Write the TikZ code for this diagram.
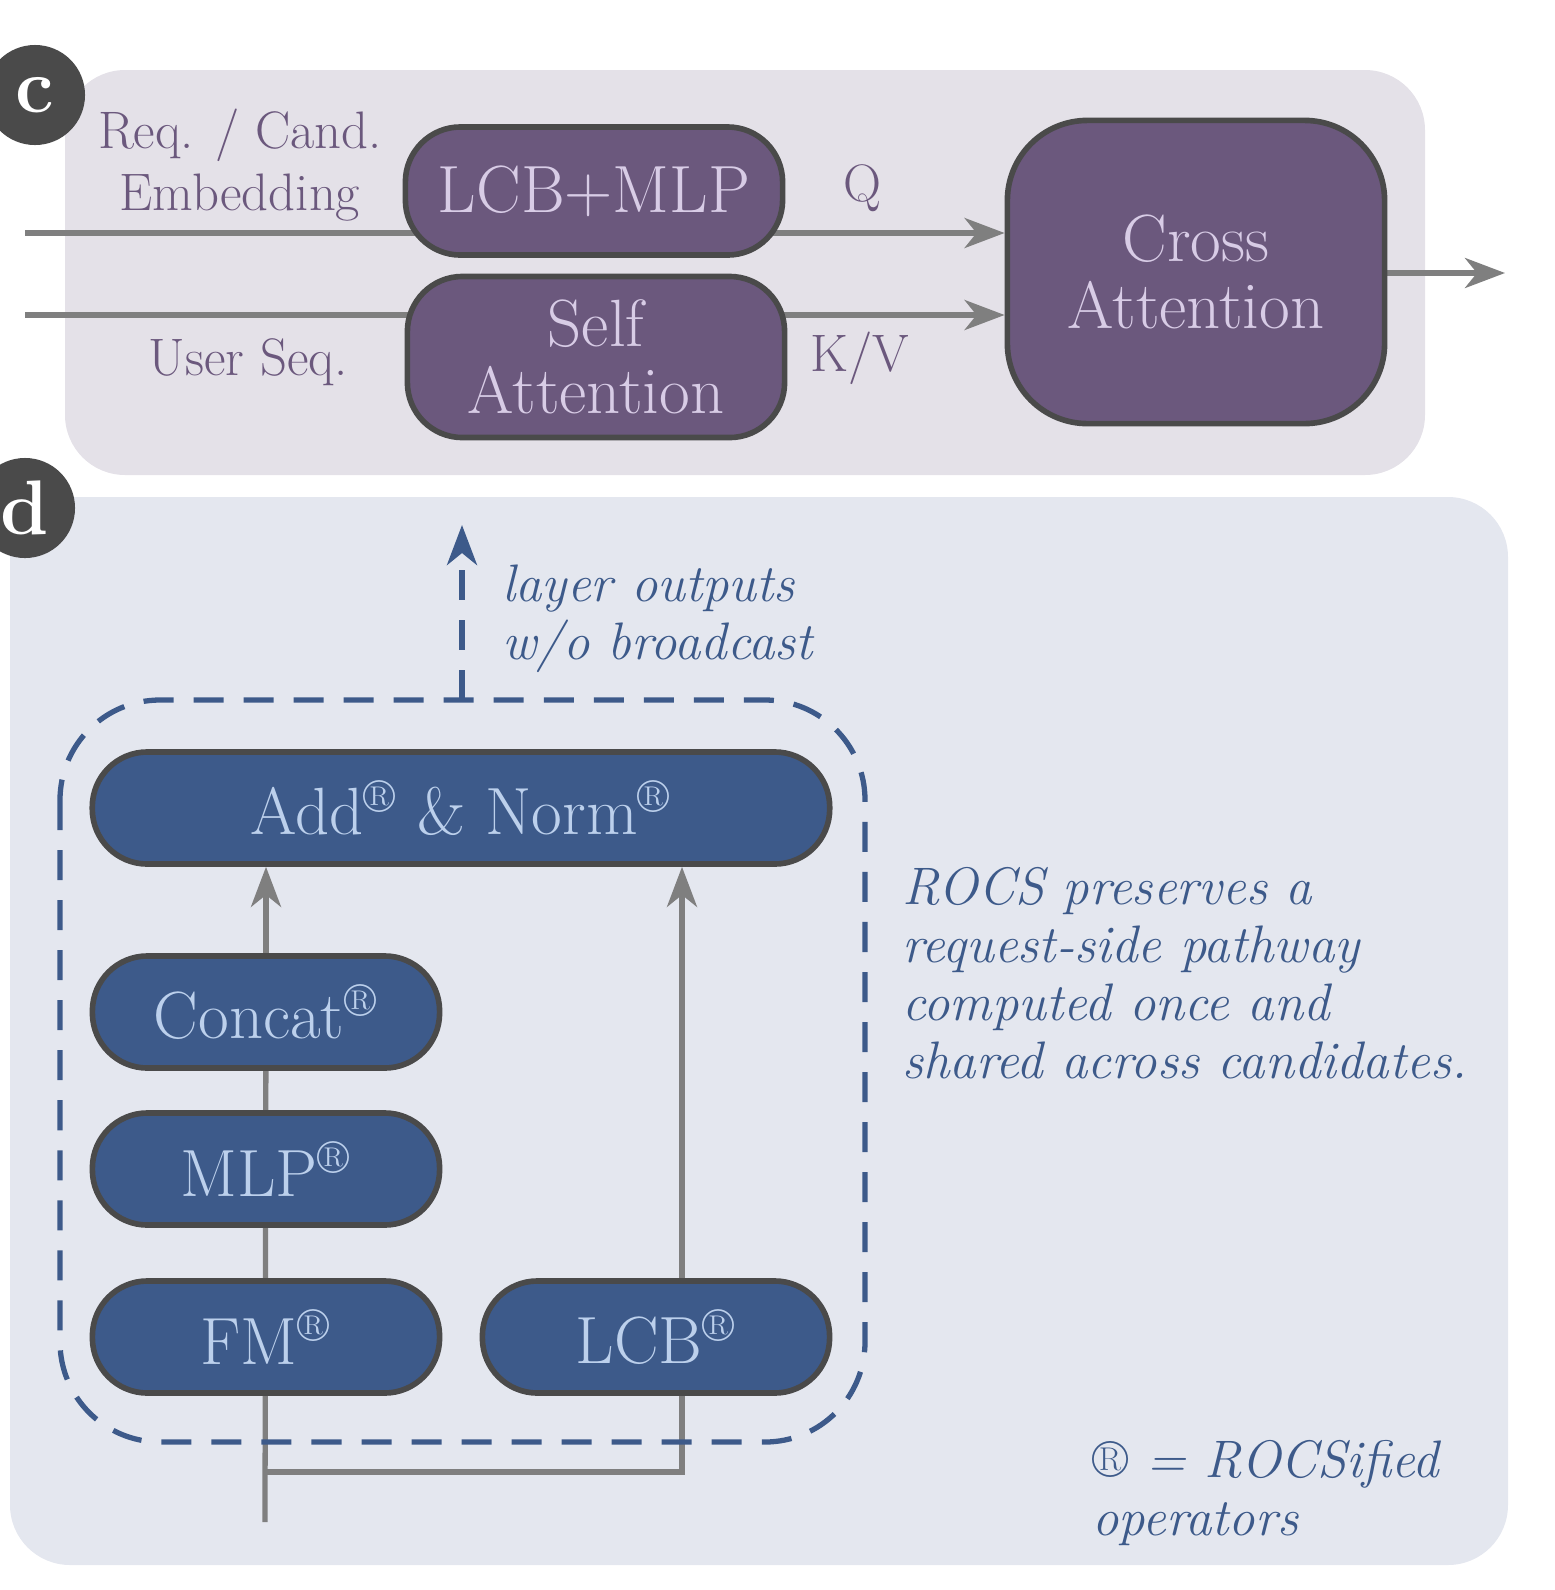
\documentclass[tikz,border=0pt]{standalone}
\usepackage{tikz}
\usetikzlibrary{arrows.meta,positioning}
\pgfdeclarelayer{panel}
\pgfdeclarelayer{wires}
\pgfsetlayers{panel,wires,main}
\definecolor{cpanel}{HTML}{E4E1E8}
\definecolor{dpanel}{HTML}{E4E7EF}
\definecolor{cpurple}{HTML}{6B587D}
\definecolor{ctext}{HTML}{D8CCE6}
\definecolor{dblue}{HTML}{3D5A8A}
\definecolor{dtext}{HTML}{BCD0EC}
\definecolor{edge}{HTML}{4A4A4A}
\definecolor{wire}{HTML}{7F7F7F}
\newcommand\Reg{\textsuperscript{\textregistered}}
\tikzset{
    opbox/.style={draw=edge,line width=1.6pt,minimum height=#1,rounded corners=0.55cm,align=center,inner sep=0pt},
    cbox/.style={opbox=1.28cm,fill=cpurple,text=ctext,font=\fontsize{19}{22}\selectfont},
    dbox/.style={opbox=1.12cm,fill=dblue,text=dtext,font=\fontsize{19}{22}\selectfont},
    wireline/.style={draw=wire,line width=1.5pt},
    wirearrow/.style={wireline,-{Stealth[length=0.4cm,width=0.3cm,inset=0.12cm]}},
    badge/.style={circle,fill=edge,text=white,minimum size=1cm,inner sep=0pt,font=\fontsize{22}{22}\selectfont\bfseries},
    clabel/.style={text=cpurple,font=\fontsize{15}{16.5}\selectfont,align=center},
    dnote/.style={text=dblue,font=\fontsize{15}{16.5}\selectfont\itshape,align=left},
}
\begin{document}
\begin{tikzpicture}[x=0.01cm,y=-0.01cm]
    \useasboundingbox (0,0) rectangle (1555,1590);
    % panels
    \begin{pgfonlayer}{panel}
        \fill[cpanel,rounded corners=0.6cm] (65,70) rectangle (1425,475);
        \fill[dpanel,rounded corners=0.6cm] (10,497) rectangle (1508,1565);
    \end{pgfonlayer}
    \node[badge] (c) at (35,95) {c};
    \node[badge] (d) at (25,508) {d};
    % panel c
    \node[cbox,minimum width=3.77cm] (lcbmlp) at (594,191) {LCB+MLP};
    \node[cbox,minimum width=3.77cm,minimum height=1.61cm] (selfatt) at (596,357) {Self\\[-3pt]Attention};
    \node[cbox,minimum width=3.77cm,minimum height=3.03cm,rounded corners=0.8cm] (crossatt) at (1196,272) {Cross\\[-3pt]Attention};
    \node[clabel] (embed) at (240,165) {Req. / Cand.\\[1pt]Embedding};
    \node[clabel] (q) at (862,188) {Q};
    \node[clabel] (user) at (248,362) {User Seq.};
    \node[clabel] (kv) at (860,358) {K/V};
    \coordinate (inq) at (25,233);
    \coordinate (inkv) at (25,315);
    \coordinate (out) at (1505,273);
    \begin{pgfonlayer}{wires}
        \draw[wirearrow] (inq) -- (inq -| crossatt.west);
        \draw[wirearrow] (inkv) -- (inkv -| crossatt.west);
        \draw[wirearrow] (crossatt.east |- out) -- (out);
    \end{pgfonlayer}
    % panel d
    \node[dbox,minimum width=7.37cm] (addnorm) at (461,808) {Add\Reg{} \& Norm\Reg};
    \node[dbox,minimum width=3.47cm] (concat) at (266,1012) {Concat\Reg};
    \node[dbox,minimum width=3.47cm] (mlp) at (266,1169) {MLP\Reg};
    \node[dbox,minimum width=3.47cm] (fm) at (266,1337) {FM\Reg};
    \node[dbox,minimum width=3.47cm] (lcb) at (656,1337) {LCB\Reg};
    \draw[dblue,line width=1.5pt,dash pattern=on 0.3cm off 0.2cm,rounded corners=1cm] (60,700) rectangle (865,1442);
    \coordinate (boxtop) at (462,700);
    \coordinate (outtop) at (462,525);
    \draw[dblue,line width=1.5pt,dash pattern=on 0.3cm off 0.2cm,-{Stealth[length=0.4cm,width=0.3cm,inset=0.12cm]}] (boxtop) -- (outtop);
    \node[dnote,anchor=north west] (layerout) at (490,552) {layer outputs\\w/o broadcast};
    \node[dnote,anchor=north west] (rocs) at (890,855) {ROCS preserves a\\request-side pathway\\computed once and\\shared across candidates.};
    \node[dnote,anchor=north west] (legend) at (1080,1428) {\textup{\textregistered} = ROCSified\\operators};
    \coordinate (inbot) at (265,1522);
    \coordinate (split) at (265,1472);
    \coordinate (lcbup) at (682,1337);
    \begin{pgfonlayer}{wires}
        \draw[wireline] (inbot) -- (concat.center);
        \draw[wirearrow] (concat.north) -- (concat.north |- addnorm.south);
        \draw[wireline] (split) -- (split -| lcbup) -- (lcbup);
        \draw[wirearrow] (lcbup) -- (lcbup |- addnorm.south);
    \end{pgfonlayer}
\end{tikzpicture}
\end{document}
